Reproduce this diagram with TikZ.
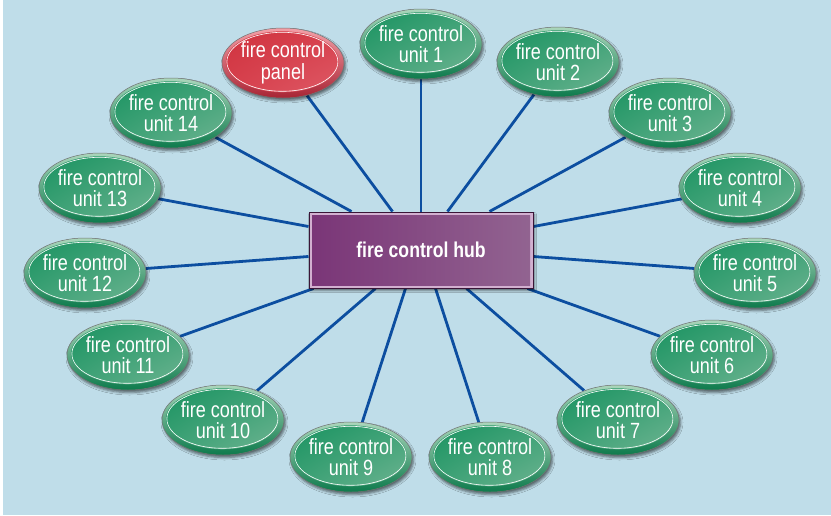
\documentclass[tikz,border=0pt]{standalone}
\usepackage{fontspec}
\newfontfamily\labelfont[FakeStretch=0.82]{Liberation Sans}
\usetikzlibrary{shapes.geometric,shadings,shadows.blur,backgrounds,calc}

% palette
\definecolor{bgblue}{HTML}{BFDDE9}
\definecolor{linkblue}{HTML}{0C4EA0}
% green units: rim top / rim bottom / fill gradient
\definecolor{grimA}{HTML}{AAD6BB}
\definecolor{grimB}{HTML}{0D7A4C}
\definecolor{gA}{HTML}{17925F}
\definecolor{gB}{HTML}{3FA277}
\definecolor{gC}{HTML}{72B694}
% red panel
\definecolor{rrimA}{HTML}{F3A0A8}
\definecolor{rrimB}{HTML}{A82434}
\definecolor{rA}{HTML}{CF323E}
\definecolor{rB}{HTML}{D7404D}
\definecolor{rC}{HTML}{DF5D69}
% hub
\definecolor{hubedge}{HTML}{3A1537}
\definecolor{hubband}{HTML}{D2B0D0}
\definecolor{hubA}{HTML}{7A3577}
\definecolor{hubB}{HTML}{926491}

\tikzset{
  bubble/.style={
    ellipse, minimum width=122pt, minimum height=70pt, inner sep=0pt,
    align=center, text=white,
    font=\labelfont\fontsize{22}{21.5}\selectfont,
    draw=black!55, line width=0.5pt,
    top color=#1rimA, bottom color=#1rimB,
    blur shadow={shadow xshift=1.5pt, shadow yshift=-2.5pt,
                 shadow blur radius=2.5pt, shadow opacity=55},
    path picture={
      \shade[upper left=#1A, upper right=#1B, lower left=#1B, lower right=#1C]
        ([shift={(-0.6,-1.2)}]path picture bounding box.center)
        ellipse [x radius=56.5, y radius=30.5];
      \draw[white, line width=0.6pt]
        ([shift={(-0.6,-1.2)}]path picture bounding box.center)
        ellipse [x radius=55.5, y radius=29.5];
    }
  },
  hubbox/.style={
    rectangle, minimum width=224pt, minimum height=76pt, inner sep=0pt,
    text=white, font=\labelfont\bfseries\fontsize{21.5}{21.5}\selectfont,
    draw=hubedge, line width=1pt, fill=hubband,
    blur shadow={shadow xshift=1.5pt, shadow yshift=-2.5pt,
                 shadow blur radius=2pt, shadow opacity=55},
    path picture={
      \shade[left color=hubA, right color=hubB]
        ([shift={(3,3)}]path picture bounding box.north west) rectangle
        ([shift={(-3,-3)}]path picture bounding box.south east);
    }
  },
  link/.style={draw=linkblue, line width=2.8pt}
}

\begin{document}
\begin{tikzpicture}[x=1pt, y=-1pt]
  \useasboundingbox (0,0) rectangle (831,515);

  % hub and the units around it
  \node[hubbox] (hub) at (421,250) {fire control hub};

  \node[bubble=r] (panel) at (283,63)  {fire control\\panel};
  \node[bubble=g] (u1)  at (421,44)  {fire control\\unit 1};
  \node[bubble=g] (u2)  at (558,62)  {fire control\\unit 2};
  \node[bubble=g] (u3)  at (670,113) {fire control\\unit 3};
  \node[bubble=g] (u4)  at (740,188) {fire control\\unit 4};
  \node[bubble=g] (u5)  at (755,273) {fire control\\unit 5};
  \node[bubble=g] (u6)  at (712,355) {fire control\\unit 6};
  \node[bubble=g] (u7)  at (618,420) {fire control\\unit 7};
  \node[bubble=g] (u8)  at (490,457) {fire control\\unit 8};
  \node[bubble=g] (u9)  at (351,457) {fire control\\unit 9};
  \node[bubble=g] (u10) at (223,420) {fire control\\unit 10};
  \node[bubble=g] (u11) at (128,355) {fire control\\unit 11};
  \node[bubble=g] (u12) at (85,273)  {fire control\\unit 12};
  \node[bubble=g] (u13) at (100,188) {fire control\\unit 13};
  \node[bubble=g] (u14) at (171,113) {fire control\\unit 14};

  \begin{scope}[on background layer]
    \fill[white] (0,0) rectangle (831,515);
    \fill[bgblue] (3,0) rectangle (831,515);

    % spokes from the hub edges
    \draw[link] ($(hub.north west)+(43,0)$)  -- (u14);
    \draw[link] ($(hub.north west)+(84,0)$)  -- (panel);
    \draw[link] (hub.north) -- (u1);
    \draw[link] ($(hub.north west)+(139,0)$) -- (u2);
    \draw[link] ($(hub.north west)+(181,0)$) -- (u3);

    \draw[link] ($(hub.north west)+(0,15)$)  -- (u13);
    \draw[link] ($(hub.north west)+(0,45)$)  -- (u12);
    \draw[link] ($(hub.north east)+(0,15)$)  -- (u4);
    \draw[link] ($(hub.north east)+(0,45)$)  -- (u5);

    \draw[link] ($(hub.south west)+(5,0)$)   -- (u11);
    \draw[link] ($(hub.south west)+(67,0)$)  -- (u10);
    \draw[link] ($(hub.south west)+(97,0)$)  -- (u9);
    \draw[link] ($(hub.south west)+(127,0)$) -- (u8);
    \draw[link] ($(hub.south west)+(158,0)$) -- (u7);
    \draw[link] ($(hub.south west)+(219,0)$) -- (u6);
  \end{scope}
\end{tikzpicture}
\end{document}
